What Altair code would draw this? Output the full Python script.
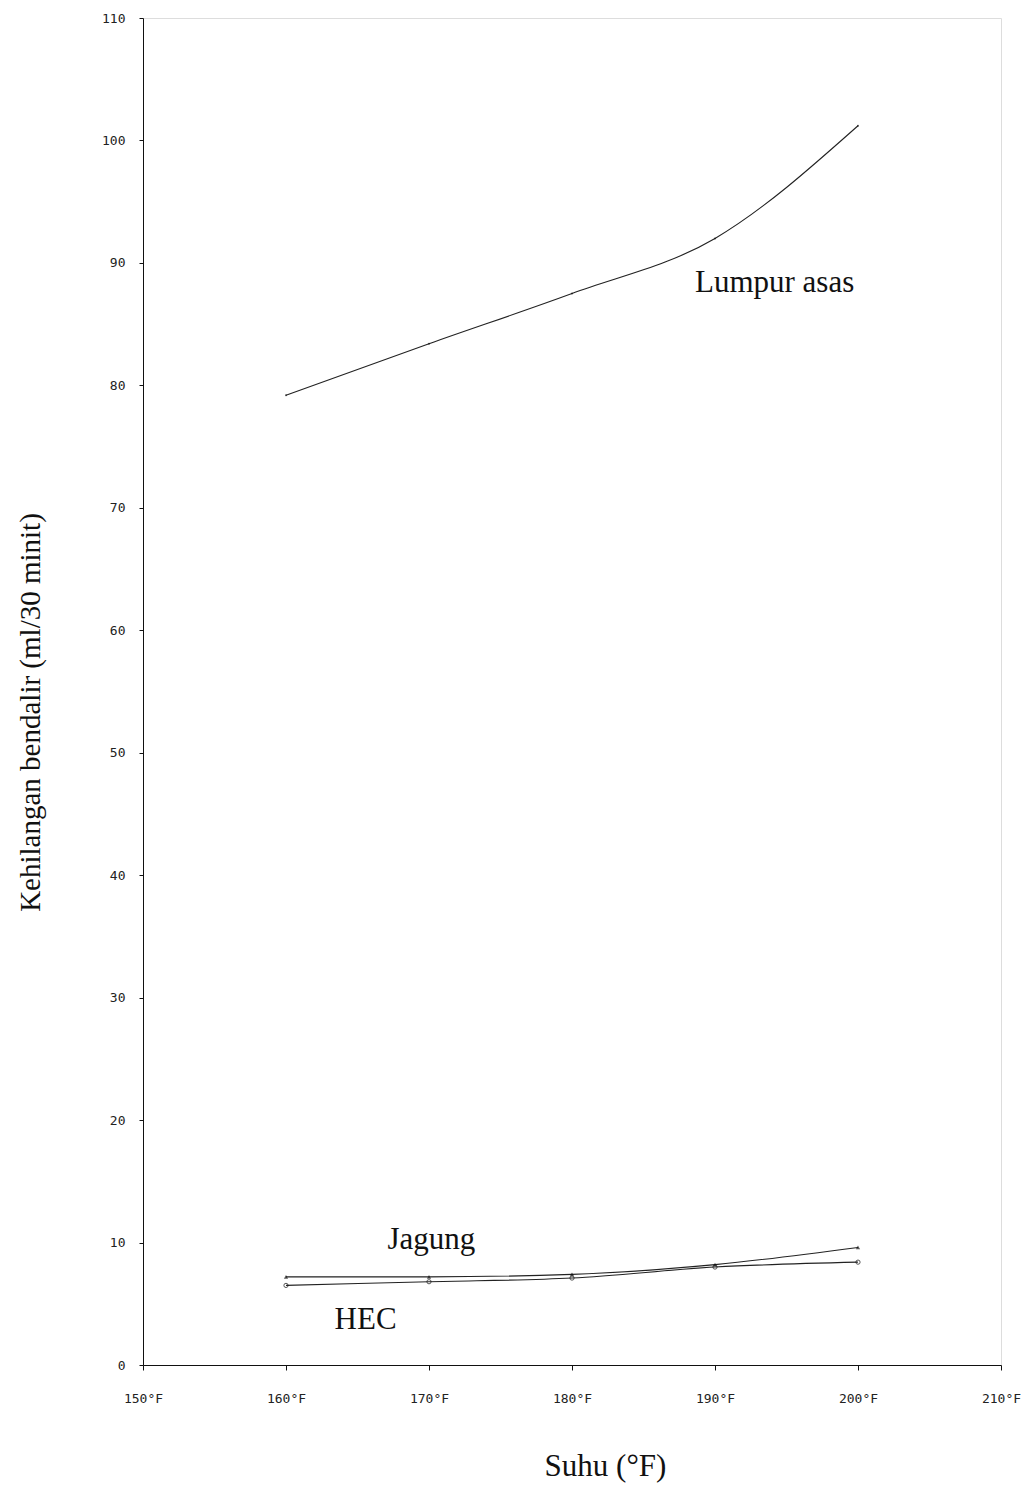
import altair as alt
import pandas as pd

suhu = [160, 170, 180, 190, 200]
lumpur_asas = [79.2, 83.4, 87.5, 92.0, 101.2]
jagung = [7.2, 7.2, 7.4, 8.2, 9.6]
hec = [6.5, 6.8, 7.1, 8.0, 8.4]

label_text = ["Lumpur asas", "Jagung", "HEC"]
label_x = [188.6, 167.1, 163.4]
label_y = [88.4, 10.2, 3.7]

x_ticks = [150, 160, 170, 180, 190, 200, 210]
y_ticks = [0, 10, 20, 30, 40, 50, 60, 70, 80, 90, 100, 110]

df = pd.DataFrame({
    "suhu": suhu * 3,
    "nilai": lumpur_asas + jagung + hec,
    "siri": ["Lumpur asas"] * 5 + ["Jagung"] * 5 + ["HEC"] * 5,
})
lab = pd.DataFrame({"t": label_text, "x": label_x, "y": label_y})

xs = alt.Scale(domain=[150, 210], nice=False, zero=False)
ys = alt.Scale(domain=[0, 110], nice=False)

x_axis = alt.Axis(
    values=x_ticks, labelExpr="datum.value + '°F'", title="Suhu (°F)",
    grid=False, tickSize=5, labelPadding=22, labelFont="DejaVu Sans Mono",
    labelFontSize=13, labelColor="#222", labelFlush=False,
    titleFont="Liberation Serif",
    titleFontSize=31, titleFontWeight="normal", titleColor="#111",
    titleX=462, titleY=101, titleBaseline="middle", titleAlign="center",
    domainColor="#111", tickColor="#111",
)
y_axis = alt.Axis(
    values=y_ticks, title="Kehilangan bendalir (ml/30 minit)",
    grid=False, tickSize=4, labelPadding=14, labelFont="DejaVu Sans Mono",
    labelFontSize=13, labelColor="#222", labelFlush=False,
    titleFont="Liberation Serif",
    titleFontSize=29, titleFontWeight="normal", titleColor="#111",
    titleX=-113, titleY=694, titleAngle=-90, titleBaseline="middle",
    titleAlign="center", domainColor="#111", tickColor="#111",
)

base = alt.Chart(df).encode(
    x=alt.X("suhu:Q", scale=xs, axis=x_axis),
    y=alt.Y("nilai:Q", scale=ys, axis=y_axis),
    detail="siri:N",
)

lines = base.mark_line(color="#222", strokeWidth=1.1, interpolate="monotone")

pts_j = base.transform_filter(alt.datum.siri == "Jagung").mark_point(
    shape="triangle-up", filled=True, color="#111", size=18)
pts_h = base.transform_filter(alt.datum.siri == "HEC").mark_point(
    shape="circle", filled=False, color="#111", size=18, strokeWidth=1)
pts_l = base.transform_filter(alt.datum.siri == "Lumpur asas").mark_point(
    shape="circle", filled=True, color="#111", size=4)

labels = alt.Chart(lab).mark_text(
    align="left", baseline="middle", font="Liberation Serif",
    fontSize=31, color="#111",
).encode(
    x=alt.X("x:Q", scale=xs),
    y=alt.Y("y:Q", scale=ys),
    text="t:N",
)

chart = alt.layer(lines, pts_j, pts_h, pts_l, labels).properties(
    width=858, height=1347,
    autosize=alt.AutoSizeParams(type="none"),
    padding={"left": 135, "top": 10, "right": 26, "bottom": 120},
).configure_view(stroke="#111", strokeWidth=1).configure(background="white")

chart.save("out.html", embed_options={"renderer": "svg", "actions": False})
